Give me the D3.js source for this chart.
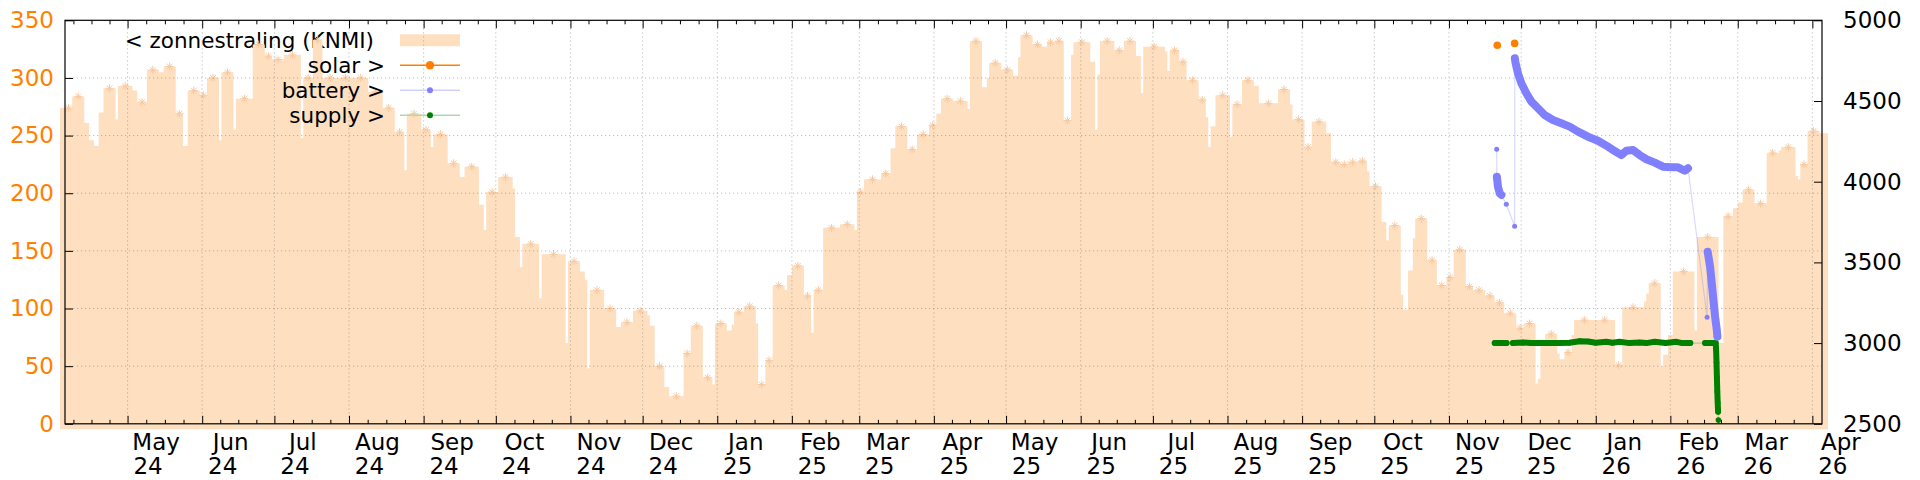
<!DOCTYPE html>
<meta charset="utf-8" />
<head>
  <script src="https://d3js.org/d3.v7.min.js"></script>
  <title>zonnestraling</title>
  <style>
    body { margin: 0; background: #fff; }
    text { font-family: "DejaVu Sans", sans-serif; }
  </style>
</head>
<body>
<svg id="chart" width="1920" height="480"></svg>
<script>
  // daily KNMI radiation, as steps: start day (since 2024-04-05) and value
  const zonDays = [0,3,8,10,12,14,16,21,22,28,30,34,39,41,46,49,51,56,59,64,65,70,71,78,83,86,91,98,99,103,107,126,132,137,141,142,148,152,153,159,164,166,172,174,175,180,186,187,189,190,197,198,208,209,214,216,217,218,224,229,231,236,242,243,245,249,251,257,260,265,269,270,275,277,278,282,287,288,291,294,299,300,302,307,310,311,315,322,328,329,332,339,343,345,350,354,359,362,364,369,375,376,381,383,384,389,394,396,397,402,406,408,411,415,418,419,426,428,429,430,436,440,445,447,448,457,458,459,463,466,471,474,475,476,478,484,485,489,494,496,504,509,510,515,518,524,526,530,533,537,541,542,547,549,550,555,556,558,560,561,566,570,574,577,582,585,590,594,598,603,606,611,612,613,615,620,621,623,626,627,644,647,656,657,658,663,664,666,668,677,678,687,689,693,695,697,702,707,712,713,719,720,721,724,729];
  const zonValues = [274,284,261,246,241,270,291,264,293,289,279,307,305,310,269,241,289,285,300,246,305,255,282,329,319,316,320,248,300,333,300,288,274,253,220,269,255,240,251,226,214,223,190,168,201,214,204,162,136,156,109,147,70,141,132,125,48,116,100,84,88,98,94,85,50,32,24,61,85,40,34,87,81,86,97,102,87,34,55,120,116,129,137,111,79,116,170,173,168,201,212,217,239,258,238,251,259,269,282,280,273,332,292,300,313,307,302,318,337,329,327,331,332,263,320,331,314,255,303,332,324,332,319,287,327,323,306,324,314,298,281,266,240,258,285,249,277,298,293,278,290,277,264,240,262,252,227,225,227,228,219,206,175,159,172,112,99,133,161,178,142,120,127,151,119,116,111,105,96,83,87,35,39,68,78,61,56,62,77,90,51,101,106,113,122,50,60,77,132,81,162,70,180,187,192,203,191,235,237,240,215,212,225,254,252];

  const solar = [["2025-11-21T02:00", 4845], ["2025-11-28T07:00", 4857]];

  // battery: runs of close readings, single readings are runs of one
  const batteryRuns = [
    [["2025-11-20T20:00", 4201]],
    [["2025-11-20T22:00", 4031], ["2025-11-21T09:00", 3969], ["2025-11-22T02:00", 3928], ["2025-11-22T19:00", 3918]],
    [["2025-11-24T20:00", 3860]],
    [["2025-11-28T07:00", 3724]],
    [["2025-11-28T09:00", 4765], ["2025-11-28T14:00", 4743], ["2025-11-29T16:00", 4672], ["2025-12-01T02:00", 4610],
     ["2025-12-03T04:00", 4548], ["2025-12-05T06:00", 4496], ["2025-12-08T00:00", 4455], ["2025-12-10T18:00", 4413],
     ["2025-12-14T05:00", 4382], ["2025-12-17T17:00", 4362], ["2025-12-21T04:00", 4341], ["2025-12-24T15:00", 4310],
     ["2025-12-28T18:00", 4279], ["2026-01-01T22:00", 4254], ["2026-01-06T02:00", 4217], ["2026-01-08T21:00", 4190],
     ["2026-01-11T16:00", 4165], ["2026-01-13T17:00", 4192], ["2026-01-16T11:00", 4196], ["2026-01-19T06:00", 4165],
     ["2026-01-22T01:00", 4139], ["2026-01-25T12:00", 4118], ["2026-01-28T22:00", 4093], ["2026-02-01T10:00", 4089],
     ["2026-02-04T04:00", 4089], ["2026-02-06T23:00", 4068], ["2026-02-08T08:00", 4083]],
    [["2026-02-16T06:00", 3160]],
    [["2026-02-16T12:00", 3566], ["2026-02-17T12:00", 3473], ["2026-02-18T05:00", 3370], ["2026-02-18T21:00", 3267],
     ["2026-02-19T14:00", 3164], ["2026-02-20T07:00", 3081], ["2026-02-20T13:00", 3040]],
  ];

  const supplyRuns = [
    [["2025-11-20T00:00", 3000], ["2025-11-21T00:00", 3000], ["2025-11-22T00:00", 3000], ["2025-11-22T19:00", 3000]],
    [["2025-11-23T16:00", 3000], ["2025-11-24T23:00", 3000]],
    [["2025-11-27T14:00", 3000], ["2025-12-01T18:00", 3004], ["2025-12-05T00:00", 3000], ["2025-12-09T00:00", 3000],
     ["2025-12-13T00:00", 3000], ["2025-12-17T00:00", 3000], ["2025-12-21T00:00", 3002], ["2025-12-25T08:00", 3012],
     ["2025-12-28T20:00", 3010], ["2026-01-01T00:00", 3002], ["2026-01-05T10:00", 3008], ["2026-01-08T00:00", 3002],
     ["2026-01-10T22:00", 3008], ["2026-01-15T00:00", 3000], ["2026-01-19T06:00", 3004], ["2026-01-22T00:00", 3000],
     ["2026-01-25T12:00", 3008], ["2026-01-30T00:00", 3000], ["2026-02-03T12:00", 3008], ["2026-02-06T00:00", 3000],
     ["2026-02-09T07:00", 3000]],
    [["2026-02-15T10:00", 3000], ["2026-02-17T12:00", 3000], ["2026-02-19T20:00", 3000], ["2026-02-20T00:00", 2960],
     ["2026-02-20T04:00", 2880], ["2026-02-20T08:00", 2790], ["2026-02-20T12:00", 2700], ["2026-02-20T16:00", 2630],
     ["2026-02-20T20:00", 2575]],
    [["2026-02-20T23:00", 2523]],
  ];

  const leftTicks = [0, 50, 100, 150, 200, 250, 300, 350];
  const rightTicks = [2500, 3000, 3500, 4000, 4500, 5000];
  const legendTitles = ["< zonnestraling (KNMI)", "solar >", "battery >", "supply >"];

  const startDate = new Date(2024, 3, 5);
  const totalDays = 730;
  const endDate = d3.timeDay.offset(startDate, totalDays);
  const parseT = d3.timeParse("%Y-%m-%dT%H:%M");

  const peach = "#fedfc0";
  const orange = "#ff8000";
  const blue = "#8080ff";
  const green = "#008000";

  const svg = d3.select("#chart");
  const margin = { top: 20, right: 98, bottom: 56, left: 65 };
  const W = 1920, H = 480;
  const x0 = margin.left, x1 = W - margin.right;
  const yTop = margin.top + 0.3, yBot = H - margin.bottom - 0.2;

  const x = d3.scaleTime().domain([startDate, endDate]).range([x0, x1]);
  const yL = d3.scaleLinear().domain([0, 350]).range([yBot, yTop]);
  const yR = d3.scaleLinear().domain([2500, 5000]).range([yBot, yTop]);

  svg.append("rect").attr("width", W).attr("height", H).attr("fill", "#fff");

  const rowY = (i) => 40.3 + i * 25;
  const keyText = (i) =>
    svg.append("text")
      .attr("x", i === 0 ? 374 : 385)
      .attr("y", rowY(i) + 8)
      .attr("text-anchor", "end")
      .attr("font-size", 21.5)
      .attr("fill", "#000")
      .text(legendTitles[i]);

  // key entry 1 sits under the fill, as in the original
  keyText(0);
  svg.append("rect").attr("x", 400).attr("y", rowY(0) - 6).attr("width", 60).attr("height", 12).attr("fill", peach);

  // step fill
  const steps = zonDays.map((d, i) => ({
    a: x(d3.timeDay.offset(startDate, d)),
    b: x(d3.timeDay.offset(startDate, i < zonDays.length - 1 ? zonDays[i + 1] : totalDays)),
    v: zonValues[i],
  }));
  const pts = [];
  steps.forEach((s) => { pts.push([s.a, yL(s.v)]); pts.push([s.b, yL(s.v)]); });
  pts[0][0] -= 5;
  pts[pts.length - 1][0] += 6;
  const area = d3.area().x((d) => d[0]).y0(yBot + 5.5).y1((d) => d[1]);
  svg.append("path").attr("d", area(pts)).attr("fill", peach);

  // little asterisk marks on the step tops
  const star = "M-4,0H4M0,-4V4M-2.8,-2.8L2.8,2.8M-2.8,2.8L2.8,-2.8";
  const stars = [];
  steps.forEach((s) => {
    const w = (s.b - s.a) / 2.4;
    if (w < 3) return;
    const n = Math.max(1, Math.round(w / 7));
    for (let k = 0; k < n; k++) stars.push([s.a + ((k + 0.5) * (s.b - s.a)) / n, yL(s.v)]);
  });
  svg.append("g").selectAll("path").data(stars).join("path")
    .attr("transform", (d) => `translate(${d[0]},${d[1]})`)
    .attr("d", star).attr("stroke", "#f7c9a0").attr("stroke-width", 1).attr("fill", "none");

  // grid
  const months = d3.timeMonth.range(new Date(2024, 4, 1), new Date(2026, 4, 1));
  const grid = svg.append("g").attr("stroke", "rgba(110,110,110,0.45)").attr("stroke-dasharray", "1.2,2.8");
  grid.selectAll(".gx").data(months).join("line")
    .attr("x1", (d) => x(d)).attr("x2", (d) => x(d)).attr("y1", yTop).attr("y2", yBot);
  grid.selectAll(".gy").data(leftTicks.slice(1, -1)).join("line")
    .attr("x1", x0).attr("x2", x1).attr("y1", (d) => yL(d)).attr("y2", (d) => yL(d));

  // minor x ticks: four per month
  const minors = [];
  d3.timeMonth.range(new Date(2024, 3, 1), new Date(2026, 4, 1)).forEach((m) => {
    const n = d3.timeMonth.offset(m, 1);
    for (let k = 1; k < 4; k++) {
      const t = new Date(+m + ((n - m) * k) / 4);
      if (t > startDate && t < endDate) minors.push(t);
    }
  });

  const axisStyle = (g) => {
    g.select(".domain").remove();
    g.selectAll("line").attr("stroke", "#000").attr("stroke-width", 1);
    g.selectAll("text").attr("font-family", "DejaVu Sans").attr("font-size", 23);
  };
  svg.append("g").attr("transform", `translate(0,${yBot})`)
    .call(d3.axisBottom(x).tickValues(months).tickSize(-8).tickFormat("")).call(axisStyle);
  svg.append("g").attr("transform", `translate(0,${yBot})`)
    .call(d3.axisBottom(x).tickValues(minors).tickSize(-4).tickFormat("")).call(axisStyle);
  svg.append("g").attr("transform", `translate(0,${yTop})`)
    .call(d3.axisTop(x).tickValues(months).tickSize(-8).tickFormat("")).call(axisStyle);
  svg.append("g").attr("transform", `translate(0,${yTop})`)
    .call(d3.axisTop(x).tickValues(minors).tickSize(-4).tickFormat("")).call(axisStyle);

  svg.append("g").attr("transform", `translate(${x0},0)`)
    .call(d3.axisLeft(yL).tickValues(leftTicks).tickSize(-8).tickPadding(11).tickFormat(d3.format("d")))
    .call(axisStyle)
    .call((g) => g.selectAll("text").attr("fill", orange));
  svg.append("g").attr("transform", `translate(${x1},0)`)
    .call(d3.axisRight(yR).tickValues(rightTicks).tickSize(-8).tickPadding(21).tickFormat(d3.format("d")))
    .call(axisStyle)
    .call((g) => g.selectAll("text").attr("fill", "#000"));

  svg.append("rect").attr("x", x0).attr("y", yTop).attr("width", x1 - x0).attr("height", yBot - yTop)
    .attr("fill", "none").attr("stroke", "#000").attr("stroke-width", 1.2);

  // month / year labels
  const fmtM = d3.timeFormat("%b"), fmtY = d3.timeFormat("%y");
  const lab = svg.append("g").attr("font-size", 23).attr("text-anchor", "middle").attr("fill", "#000");
  lab.selectAll(".m").data(months).join("text").attr("x", (d) => x(d) + 28.5).attr("y", 450).text(fmtM);
  lab.selectAll(".y").data(months).join("text").attr("x", (d) => x(d) + 20.5).attr("y", 474).text(fmtY);

  // key entries 2..4
  const keyLine = [orange, "#d0d0ff", "#b0d8b0"];
  const keyDot = [[orange, 4.2], [blue, 3], [green, 3]];
  [1, 2, 3].forEach((i) => {
    keyText(i);
    svg.append("line").attr("x1", 400).attr("x2", 460).attr("y1", rowY(i)).attr("y2", rowY(i))
      .attr("stroke", keyLine[i - 1]).attr("stroke-width", 1.5);
    svg.append("circle").attr("cx", 430).attr("cy", rowY(i)).attr("r", keyDot[i - 1][1]).attr("fill", keyDot[i - 1][0]);
  });

  // series on the right axis
  const line = d3.line().x((d) => x(parseT(d[0]))).y((d) => yR(d[1]));
  const drawSeries = (runs, color, thin, width, r) => {
    const g = svg.append("g");
    g.append("path").attr("d", line(runs.flat())).attr("fill", "none").attr("stroke", thin).attr("stroke-width", 1.2);
    g.selectAll(".run").data(runs.filter((r) => r.length > 1)).join("path")
      .attr("d", line).attr("fill", "none").attr("stroke", color)
      .attr("stroke-width", width).attr("stroke-linecap", "round").attr("stroke-linejoin", "round");
    g.selectAll("circle").data(runs.flat()).join("circle")
      .attr("cx", (d) => x(parseT(d[0]))).attr("cy", (d) => yR(d[1])).attr("r", r).attr("fill", color);
  };
  drawSeries(supplyRuns, green, "rgba(0,128,0,0.25)", 6, 2.8);
  drawSeries(batteryRuns, blue, "rgba(128,128,255,0.3)", 8, 2.5);

  svg.append("g").selectAll("circle").data(solar).join("circle")
    .attr("cx", (d) => x(parseT(d[0]))).attr("cy", (d) => yR(d[1])).attr("r", 3.8).attr("fill", orange);
</script>
</body>
